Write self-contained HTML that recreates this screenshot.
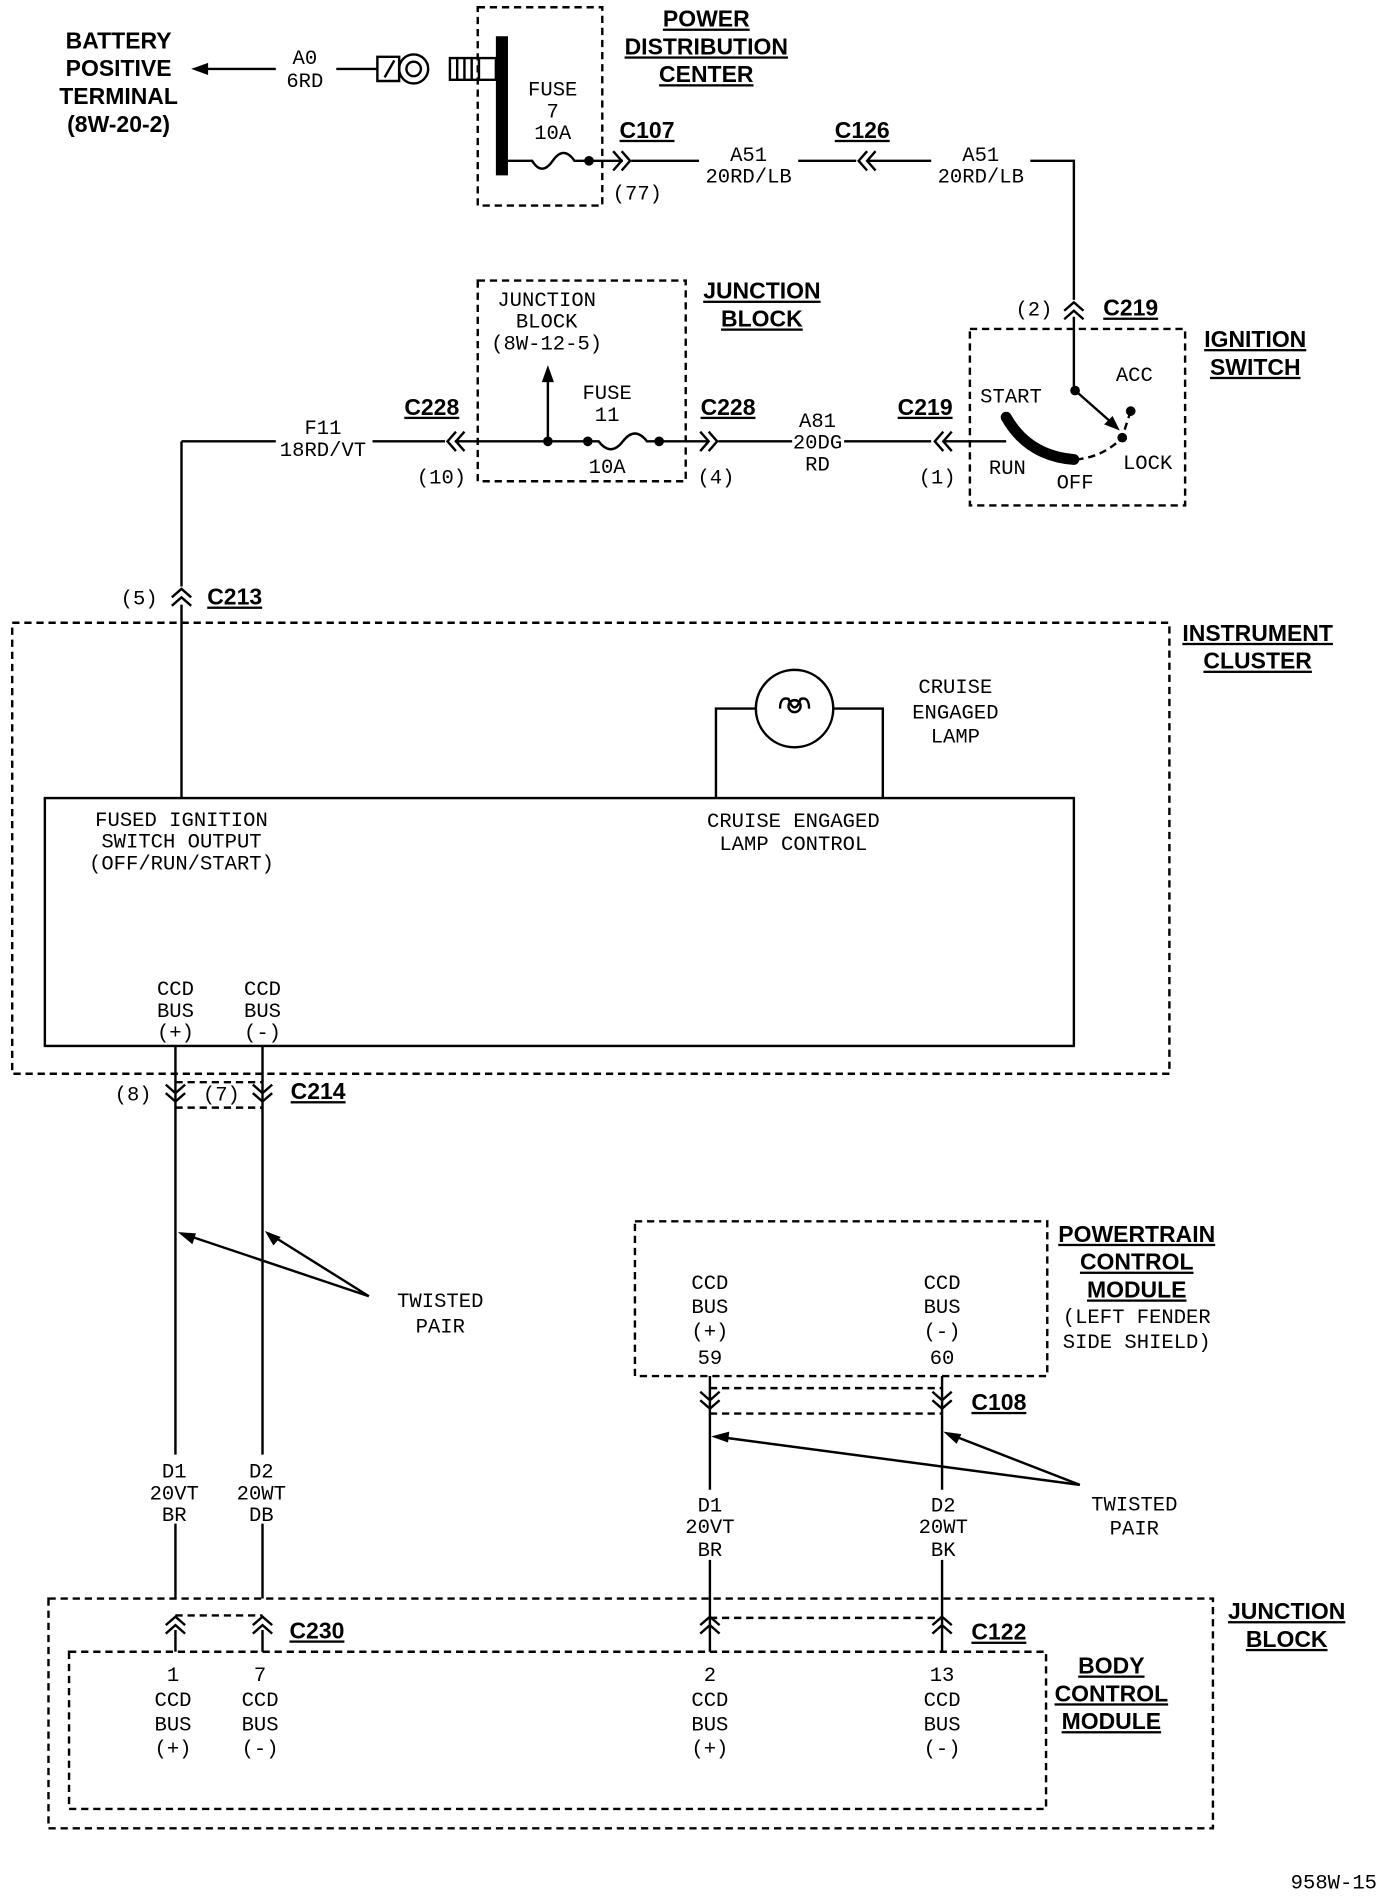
<!DOCTYPE html>
<html><head><meta charset="utf-8"><style>
html,body{margin:0;padding:0;background:#fff}
svg{display:block}
.t{font-family:"Liberation Mono",monospace;font-size:17px;fill:#000;text-anchor:middle}
.b{font-family:"Liberation Sans",sans-serif;font-weight:bold;font-size:19px;fill:#000;text-anchor:middle;text-decoration:underline}
.l{stroke:#000;stroke-width:2;fill:none}
.d{stroke:#000;stroke-width:2;fill:none;stroke-dasharray:6,4}
</style></head><body>
<svg width="1392" height="1896" viewBox="0 0 1151 1568" xmlns="http://www.w3.org/2000/svg">
<defs>
<g id="up"><path class="l" d="M-8,4 L0,-3 L8,4 M-8,11 L0,4 L8,11"/></g>
<g id="dn"><path class="l" d="M-8,-4 L0,3 L8,-4 M-8,-11 L0,-4 L8,-11"/></g>
<g id="rt"><path class="l" d="M-4,-8 L3,0 L-4,8 M-11,-8 L-4,0 L-11,8"/></g>
<g id="lt"><path class="l" d="M4,-8 L-3,0 L4,8 M11,-8 L4,0 L11,8"/></g>
</defs>
<!-- battery -->
<text class="b" style="text-decoration:none" x="98" y="40">BATTERY</text>
<text class="b" style="text-decoration:none" x="98" y="63">POSITIVE</text>
<text class="b" style="text-decoration:none" x="98" y="86">TERMINAL</text>
<text class="b" style="text-decoration:none" x="98" y="109">(8W-20-2)</text>
<path class="l" d="M228,57 L162,57"/><path d="M158,57 L172,52 L172,62Z"/>
<text class="t" x="252" y="53">A0</text><text class="t" x="252" y="72">6RD</text>
<path class="l" d="M278,57 L312,57"/>
<path class="l" d="M312,47 L330,47 L330,67 L312,67Z M318,64 L326,50"/>
<circle class="l" cx="342" cy="57" r="12" stroke-width="3"/><circle class="l" cx="342" cy="57" r="6"/>
<path class="l" d="M372,48 L410,48 L410,66 L372,66Z M378,48V66 M384,48V66 M390,48V66 M396,48V66"/>
<!-- PDC -->
<rect class="d" x="395" y="6" width="103" height="164"/>
<path d="M410,30 L420,30 L420,145 L410,145Z"/>
<text class="b" x="584" y="22">POWER</text><text class="b" x="584" y="45">DISTRIBUTION</text><text class="b" x="584" y="68">CENTER</text>
<text class="t" x="457" y="79">FUSE</text><text class="t" x="457" y="97">7</text><text class="t" x="457" y="115">10A</text>
<path class="l" d="M420,133 L440,133 Q448,146 457,133 Q466,120 475,133 L515,133"/>
<circle cx="487" cy="133" r="4"/>
<use href="#rt" x="518" y="133"/>
<text class="b" x="535" y="114">C107</text><text class="t" x="527" y="165">(77)</text>
<path class="l" d="M522,133 L578,133 M660,133 L708,133 M718,133 L770,133 M852,133 L888,133 L888,248"/>
<text class="t" x="619" y="133">A51</text><text class="t" x="619" y="151">20RD/LB</text>
<use href="#lt" x="713" y="133"/><text class="b" x="713" y="114">C126</text>
<text class="t" x="811" y="133">A51</text><text class="t" x="811" y="151">20RD/LB</text>
<use href="#up" x="888" y="253"/>
<text class="t" x="855" y="261">(2)</text><text class="b" x="935" y="261">C219</text>
<!-- ignition switch -->
<rect class="d" x="802" y="272" width="178" height="146"/>
<text class="b" x="1038" y="287">IGNITION</text><text class="b" x="1038" y="310">SWITCH</text>
<path class="l" d="M888,262 L888,322 L922,352"/><circle cx="889" cy="323" r="4"/>
<path d="M926,356 L913,351 L920,344Z"/>
<circle cx="935" cy="340" r="4"/><circle cx="928" cy="362" r="4"/>
<path class="d" d="M935,340 Q930,355 928,362 Q912,378 890,380"/>
<path d="M832,345 Q850,377 888,380" stroke="#000" stroke-width="9" fill="none" stroke-linecap="round"/>
<text class="t" x="836" y="333">START</text><text class="t" x="938" y="315">ACC</text>
<text class="t" x="833" y="392">RUN</text><text class="t" x="889" y="404">OFF</text><text class="t" x="949" y="388">LOCK</text>
<!-- junction block top -->
<rect class="d" x="395" y="232" width="172" height="166"/>
<text class="t" x="452" y="253">JUNCTION</text><text class="t" x="452" y="271">BLOCK</text><text class="t" x="452" y="289">(8W-12-5)</text>
<text class="b" x="630" y="247">JUNCTION</text><text class="b" x="630" y="270">BLOCK</text>
<path class="l" d="M150,365 L150,485 M150,365 L228,365 M308,365 L368,365 M376,365 L495,365 Q505,378 515,365 Q525,352 535,365 L585,365 M594,365 L655,365 M698,365 L770,365 M780,365 L832,365"/>
<path class="l" d="M453,365 L453,312"/><path d="M453,302 L448,316 L458,316Z"/>
<circle cx="453" cy="365" r="4"/><circle cx="486" cy="365" r="4"/><circle cx="545" cy="365" r="4"/>
<text class="t" x="502" y="330">FUSE</text><text class="t" x="502" y="348">11</text><text class="t" x="502" y="391">10A</text>
<use href="#lt" x="373" y="365"/><use href="#rt" x="590" y="365"/><use href="#lt" x="776" y="365"/>
<text class="b" x="357" y="343">C228</text><text class="b" x="602" y="343">C228</text><text class="b" x="765" y="343">C219</text>
<text class="t" x="365" y="400">(10)</text><text class="t" x="592" y="400">(4)</text><text class="t" x="775" y="400">(1)</text>
<text class="t" x="676" y="353">A81</text><text class="t" x="676" y="371">20DG</text><text class="t" x="676" y="389">RD</text>
<text class="t" x="267" y="359">F11</text><text class="t" x="267" y="377">18RD/VT</text>
<use href="#up" x="150" y="490"/>
<text class="t" x="115" y="500">(5)</text><text class="b" x="194" y="500">C213</text>
<!-- instrument cluster -->
<rect class="d" x="10" y="515" width="957" height="373"/>
<text class="b" x="1040" y="530">INSTRUMENT</text><text class="b" x="1040" y="553">CLUSTER</text>
<path class="l" d="M150,500 L150,660"/>
<rect class="l" x="37" y="660" width="851" height="205"/>
<circle class="l" cx="657" cy="586" r="32"/>
<path class="l" d="M592,660 L592,586 L625,586 M689,586 L730,586 L730,660 M645,586 Q645,576 652,578 Q657,592 662,578 Q669,576 669,586"/>
<circle class="l" cx="657" cy="584" r="5"/>
<text class="t" x="790" y="573">CRUISE</text><text class="t" x="790" y="594">ENGAGED</text><text class="t" x="790" y="614">LAMP</text>
<text class="t" x="150" y="683">FUSED IGNITION</text><text class="t" x="150" y="701">SWITCH OUTPUT</text><text class="t" x="150" y="719">(OFF/RUN/START)</text>
<text class="t" x="656" y="684">CRUISE ENGAGED</text><text class="t" x="656" y="703">LAMP CONTROL</text>
<text class="t" x="145" y="823">CCD</text><text class="t" x="145" y="841">BUS</text><text class="t" x="145" y="859">(+)</text>
<text class="t" x="217" y="823">CCD</text><text class="t" x="217" y="841">BUS</text><text class="t" x="217" y="859">(-)</text>
<path class="l" d="M145,865 L145,1203 M145,1260 L145,1322 M217,865 L217,1203 M217,1260 L217,1322 M587,1138 L587,1232 M587,1290 L587,1366 M779,1138 L779,1232 M779,1290 L779,1366"/>
<use href="#dn" x="145" y="908"/><use href="#dn" x="217" y="908"/>
<path class="d" d="M145,895 L217,895 M145,916 L217,916"/>
<text class="t" x="110" y="910">(8)</text><text class="t" x="183" y="910">(7)</text><text class="b" x="263" y="909">C214</text>
<path class="l" d="M305,1072 L150,1020 M305,1072 L222,1020"/>
<path d="M147,1019 L162,1020 L159,1029Z"/><path d="M219,1018 L232,1023 L226,1030Z"/>
<text class="t" x="364" y="1081">TWISTED</text><text class="t" x="364" y="1102">PAIR</text>
<text class="t" x="144" y="1222">D1</text><text class="t" x="144" y="1240">20VT</text><text class="t" x="144" y="1258">BR</text>
<text class="t" x="216" y="1222">D2</text><text class="t" x="216" y="1240">20WT</text><text class="t" x="216" y="1258">DB</text>
<!-- PCM -->
<rect class="d" x="525" y="1010" width="341" height="128"/>
<text class="b" x="940" y="1027">POWERTRAIN</text><text class="b" x="940" y="1050">CONTROL</text><text class="b" x="940" y="1073">MODULE</text>
<text class="t" x="940" y="1094">(LEFT FENDER</text><text class="t" x="940" y="1115">SIDE SHIELD)</text>
<text class="t" x="587" y="1066">CCD</text><text class="t" x="587" y="1086">BUS</text><text class="t" x="587" y="1106">(+)</text><text class="t" x="587" y="1128">59</text>
<text class="t" x="779" y="1066">CCD</text><text class="t" x="779" y="1086">BUS</text><text class="t" x="779" y="1106">(-)</text><text class="t" x="779" y="1128">60</text>
<use href="#dn" x="587" y="1162"/><use href="#dn" x="779" y="1162"/>
<path class="d" d="M587,1148 L779,1148 M587,1169 L779,1169"/>
<text class="b" x="826" y="1166">C108</text>
<path class="l" d="M893,1228 L592,1188 M893,1228 L785,1186"/>
<path d="M588,1188 L603,1184 L602,1193Z"/><path d="M780,1184 L795,1186 L791,1194Z"/>
<text class="t" x="938" y="1249">TWISTED</text><text class="t" x="938" y="1269">PAIR</text>
<text class="t" x="587" y="1250">D1</text><text class="t" x="587" y="1268">20VT</text><text class="t" x="587" y="1287">BR</text>
<text class="t" x="780" y="1250">D2</text><text class="t" x="780" y="1268">20WT</text><text class="t" x="780" y="1287">BK</text>
<!-- junction block bottom -->
<rect class="d" x="40" y="1322" width="963" height="190"/>
<rect class="d" x="57" y="1366" width="808" height="130"/>
<text class="b" x="1064" y="1339">JUNCTION</text><text class="b" x="1064" y="1362">BLOCK</text>
<text class="b" x="919" y="1384">BODY</text><text class="b" x="919" y="1407">CONTROL</text><text class="b" x="919" y="1430">MODULE</text>
<use href="#up" x="145" y="1340"/><use href="#up" x="217" y="1340"/><use href="#up" x="587" y="1340"/><use href="#up" x="779" y="1340"/>
<path class="d" d="M145,1336 L217,1336 M587,1338 L779,1338"/>
<path class="l" d="M145,1348 L145,1366 M217,1348 L217,1366"/>
<text class="b" x="262" y="1355">C230</text><text class="b" x="826" y="1356">C122</text>
<text class="t" x="143" y="1390">1</text><text class="t" x="143" y="1411">CCD</text><text class="t" x="143" y="1431">BUS</text><text class="t" x="143" y="1451">(+)</text>
<text class="t" x="215" y="1390">7</text><text class="t" x="215" y="1411">CCD</text><text class="t" x="215" y="1431">BUS</text><text class="t" x="215" y="1451">(-)</text>
<text class="t" x="587" y="1390">2</text><text class="t" x="587" y="1411">CCD</text><text class="t" x="587" y="1431">BUS</text><text class="t" x="587" y="1451">(+)</text>
<text class="t" x="779" y="1390">13</text><text class="t" x="779" y="1411">CCD</text><text class="t" x="779" y="1431">BUS</text><text class="t" x="779" y="1451">(-)</text>
<text class="t" x="1103" y="1562">958W-15</text>
</svg>
</body></html>
